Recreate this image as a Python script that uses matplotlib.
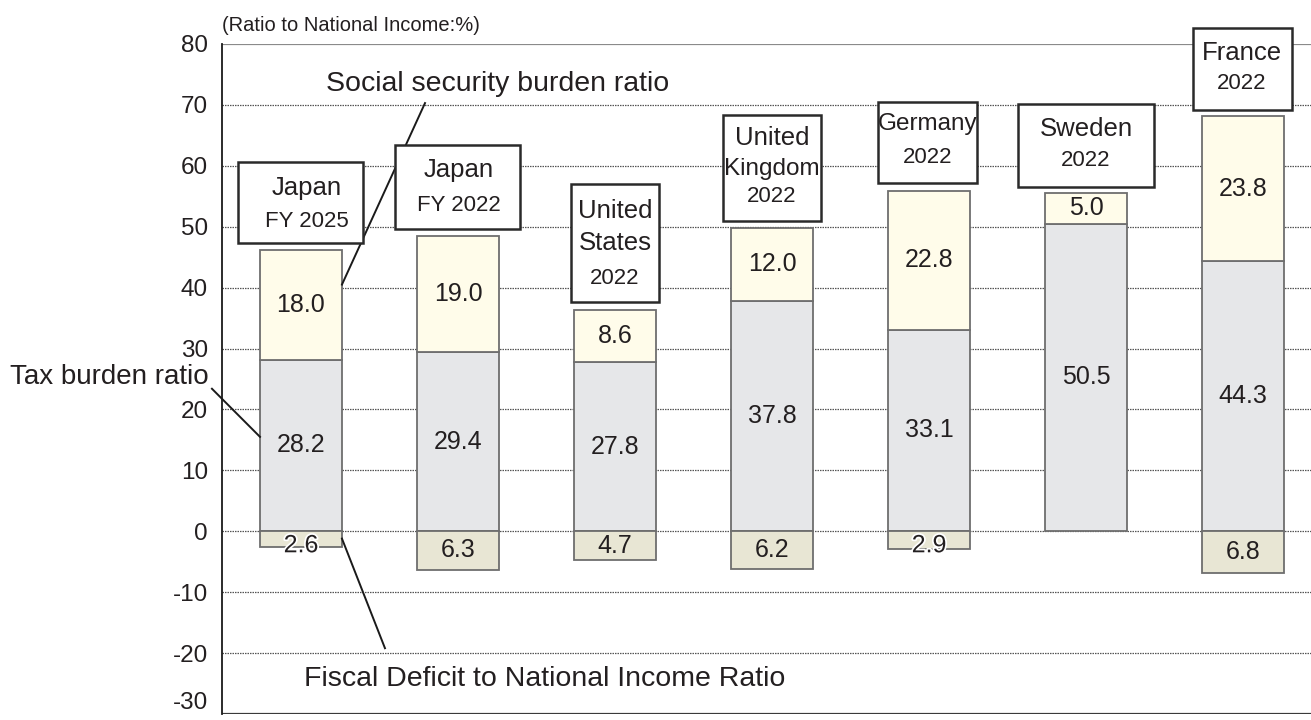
import matplotlib
matplotlib.use("Agg")
import matplotlib.pyplot as plt
import matplotlib.patheffects as pe
from matplotlib.patches import Rectangle

plt.rcParams['font.family'] = ['Liberation Sans', 'DejaVu Sans']
NARROW = ['Liberation Sans Narrow', 'Liberation Sans', 'DejaVu Sans']

# ---- data (% of national income) ----
names = ['Japan', 'Japan', 'United\nStates', 'United\nKingdom', 'Germany', 'Sweden', 'France']
years = ['FY 2025', 'FY 2022', '2022', '2022', '2022', '2022', '2022']
tax = [28.2, 29.4, 27.8, 37.8, 33.1, 50.5, 44.3]
social = [18.0, 19.0, 8.6, 12.0, 22.8, 5.0, 23.8]
deficit = [2.6, 6.3, 4.7, 6.2, 2.9, 0.0, 6.8]
yticks = [80, 70, 60, 50, 40, 30, 20, 10, 0, -10, -20, -30]

# ---- styling ----
C_TAX = '#e6e7e9'
C_SOC = '#fffcea'
C_DEF = '#e8e6d4'
C_EDGE = '#6e6e6e'
TXT = '#231f20'
BAR_W = 0.522

# label boxes: (left, right) relative to bar centre, (bottom, top), line heights, text x shift
box_layout = [
    ((-0.401, 0.395), (47.3, 60.6), [56.3, 50.9], 0.035),
    ((-0.401, 0.395), (49.6, 63.4), [59.3, 53.5], 0.005),
    ((-0.280, 0.280), (37.6, 57.0), [52.5, 47.3, 41.5], 0.0),
    ((-0.312, 0.312), (50.9, 68.3), [64.6, 59.4, 55.0], 0.0),
    ((-0.325, 0.306), (57.1, 70.4), [66.8, 61.4], -0.01),
    ((-0.433, 0.433), (56.5, 70.1), [66.0, 60.9], 0.0),
    ((-0.318, 0.312), (69.1, 82.7), [78.6, 73.5], -0.01),
]
# per-word font sizes inside the boxes where the box is tight
name_size = {'Kingdom': 17.5, 'Germany': 17.5}

fig = plt.figure(figsize=(13.11, 7.2), dpi=100)
ax = fig.add_axes([222 / 1311, 6 / 720, 1 - 222 / 1311, 670 / 720])
ax.set_xlim(-0.503, 6.433)
ax.set_ylim(-30, 80)

x = list(range(len(names)))

# grid
for v in yticks:
    if v == 80:
        ax.axhline(v, color='#8a8a8a', lw=1.6, zorder=1)
    elif v == -30:
        ax.axhline(v, color='#3a3a3a', lw=1.6, zorder=1)
    else:
        ax.axhline(v, color='#555555', lw=0.9, ls=(0, (1.2, 0.8)), zorder=1)

# stacked bars
ax.bar(x, tax, width=BAR_W, color=C_TAX, edgecolor=C_EDGE, lw=1.3, zorder=3)
ax.bar(x, social, bottom=tax, width=BAR_W, color=C_SOC, edgecolor=C_EDGE, lw=1.3, zorder=3)
def_x = [xi for xi, d in zip(x, deficit) if d > 0]
def_v = [-d for d in deficit if d > 0]
ax.bar(def_x, def_v, width=BAR_W, color=C_DEF, edgecolor=C_EDGE, lw=1.3, zorder=3)

# value labels
for xi, t, s, d in zip(x, tax, social, deficit):
    ax.text(xi, t / 2, f'{t:.1f}', ha='center', va='center', fontsize=18, color=TXT, zorder=5)
    ax.text(xi, t + s / 2, f'{s:.1f}', ha='center', va='center', fontsize=18, color=TXT, zorder=5)
    if d > 0:
        fx = []
        if d < 4:
            fx = [pe.withStroke(linewidth=2.5, foreground='white')]
        ax.text(xi, -max(d / 2, 2.3), f'{d:.1f}', ha='center', va='center', fontsize=18,
                color=TXT, zorder=5, path_effects=fx)

# country boxes
for xi, nm, yr, (bx, by, lines, dx) in zip(x, names, years, box_layout):
    ax.add_patch(Rectangle((xi + bx[0], by[0]), bx[1] - bx[0], by[1] - by[0],
                           facecolor='white', edgecolor='#2a2a2a', lw=1.8,
                           zorder=6, clip_on=False))
    parts = nm.split('\n') + [yr]
    for k, (txt, ly) in enumerate(zip(parts, lines)):
        is_year = k == len(parts) - 1
        fam = NARROW if (is_year and txt.startswith('FY')) or txt in name_size else None
        size = 16 if is_year else name_size.get(txt, 18.5)
        kw = {'family': fam} if fam else {}
        ax.text(xi + dx, ly, txt, ha='center', va='center', fontsize=size, color=TXT,
                zorder=7, clip_on=False, **kw)

# explanatory callouts
ax.plot([0.790, 0.261], [70.3, 40.5], color='#1a1a1a', lw=1.4, zorder=4)
ax.text(1.252, 73.4, 'Social security burden ratio', ha='center', va='center',
        fontsize=20.5, color=TXT, zorder=7)
ax.plot([-0.567, -0.261], [23.4, 15.5], color='#1a1a1a', lw=1.4, zorder=4, clip_on=False)
ax.text(-0.59, 25.4, 'Tax burden ratio', ha='right', va='center', fontsize=20,
        color=TXT, zorder=7, clip_on=False)
ax.plot([0.261, 0.535], [-1.2, -19.2], color='#1a1a1a', lw=1.4, zorder=4)
ax.text(1.554, -24.3, 'Fiscal Deficit to National Income Ratio', ha='center', va='center',
        fontsize=20.5, color=TXT, zorder=7)
ax.text(-0.503, 83.0, '(Ratio to National Income:%)', ha='left', va='center',
        fontsize=14.5, family=NARROW, color=TXT, clip_on=False)

# axes frame
ax.set_yticks(yticks)
ax.set_yticklabels([str(v) for v in yticks], fontsize=17.5, color=TXT)
ax.tick_params(axis='y', length=0, pad=10)
for lbl in ax.get_yticklabels():
    if lbl.get_text() == '-30':
        lbl.set_va('bottom')
ax.set_xticks([])
for side in ('top', 'right', 'bottom'):
    ax.spines[side].set_visible(False)
ax.spines['left'].set_color('#1a1a1a')
ax.spines['left'].set_linewidth(1.3)
ax.spines['left'].set_zorder(8)

fig.savefig('out.png', dpi=100)
